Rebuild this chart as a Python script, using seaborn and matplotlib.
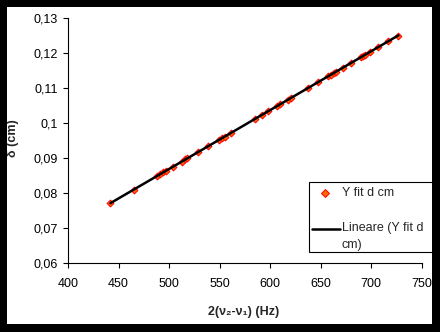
import numpy as np
import pandas as pd
import seaborn as sns
import matplotlib
matplotlib.use("Agg")
import matplotlib.pyplot as plt
from matplotlib.patches import Rectangle
from matplotlib.lines import Line2D
from matplotlib.ticker import FuncFormatter, MultipleLocator

# Measured beat frequency 2(nu2 - nu1) in Hz and the corresponding delta in cm
freq = [442, 465, 488, 491, 494, 497, 504, 513, 516, 518, 529, 539, 549, 552,
        555, 561, 585, 592, 598, 607, 610, 618, 621, 637, 647, 657, 660, 663,
        665, 672, 680, 690, 692, 694, 699, 707, 717, 727]
delta = [0.0771, 0.0810, 0.0848, 0.0853, 0.0859, 0.0864, 0.0875, 0.0890,
         0.0896, 0.0899, 0.0917, 0.0934, 0.0951, 0.0956, 0.0961, 0.0971,
         0.1012, 0.1023, 0.1033, 0.1049, 0.1054, 0.1067, 0.1072, 0.1099,
         0.1116, 0.1133, 0.1138, 0.1143, 0.1146, 0.1158, 0.1171, 0.1188,
         0.1192, 0.1195, 0.1203, 0.1217, 0.1234, 0.1250]

series_label = "Y fit d cm"
fit_label = "Lineare (Y fit d\ncm)"
x_title = "2(ν₂-ν₁) (Hz)"
y_title = "δ (cm)"

sns.set_style("white")
plt.rcParams["font.family"] = ["Liberation Sans", "DejaVu Sans"]
FS = 9

W, H = 440, 332
fig = plt.figure(figsize=(W / 100, H / 100), dpi=100, facecolor="white")


def fx(px):
    return px / W


def fy(py):
    return 1 - py / H


MARK_FACE = "#FF6600"
MARK_EDGE = "#FF0000"

ax_l, ax_r, ax_t, ax_b = 68, 421.7, 18, 263
ax = fig.add_axes([fx(ax_l), fy(ax_b), (ax_r - ax_l) / W, (ax_b - ax_t) / H])
ax.set_facecolor("white")

df = pd.DataFrame({"freq": freq, "delta": delta})
sns.scatterplot(data=df, x="freq", y="delta", marker="D", s=12,
                color=MARK_FACE, edgecolor=MARK_EDGE, linewidth=0.7,
                ax=ax, zorder=2, legend=False)

# least-squares linear trend over the data range
slope, icpt = np.polyfit(freq, delta, 1)
fit_x = [min(freq), max(freq)]
fit = pd.DataFrame({"freq": fit_x, "delta": [slope * v + icpt for v in fit_x]})
sns.lineplot(data=fit, x="freq", y="delta", color="black", linewidth=1.8,
             ax=ax, zorder=3, legend=False)

ax.set_xlim(400, 750)
ax.set_ylim(0.06, 0.13)
ax.xaxis.set_major_locator(MultipleLocator(50))
ax.yaxis.set_major_locator(MultipleLocator(0.01))
ax.yaxis.set_major_formatter(FuncFormatter(lambda v, p: f"{v:.2f}".rstrip("0").replace(".", ",")))
ax.xaxis.set_major_formatter(FuncFormatter(lambda v, p: f"{v:.0f}"))
for s in ("top", "right"):
    ax.spines[s].set_visible(False)
for s in ("left", "bottom"):
    ax.spines[s].set_color("black")
    ax.spines[s].set_linewidth(0.8)
ax.tick_params(axis="both", direction="out", length=3.5, width=0.8,
               colors="black", labelsize=FS, bottom=True, left=True)
ax.tick_params(axis="x", pad=7)
ax.tick_params(axis="y", pad=4)
ax.set_xlabel("")
ax.set_ylabel("")

fig.text(fx(244), fy(312), x_title, ha="center", va="center",
         fontsize=FS, fontweight="bold")
fig.text(fx(13), fy(138), y_title, ha="center", va="center",
         rotation=90, fontsize=FS, fontweight="bold")

# legend box
lx0, ly0, lx1, ly1 = 309, 182, 445, 252
fig.patches.append(Rectangle((fx(lx0), fy(ly1)), (lx1 - lx0) / W, (ly1 - ly0) / H,
                             transform=fig.transFigure, facecolor="white",
                             edgecolor="black", linewidth=0.8, zorder=5))
fig.lines.append(Line2D([fx(325)], [fy(193)], marker="D", markersize=4.2,
                        markerfacecolor=MARK_FACE, markeredgecolor=MARK_EDGE,
                        markeredgewidth=0.7, linestyle="none",
                        transform=fig.transFigure, zorder=6))
fig.text(fx(342), fy(193), series_label, ha="left", va="center",
         fontsize=FS, zorder=6)
fig.lines.append(Line2D([fx(312), fx(340)], [fy(229), fy(229)], color="black",
                        linewidth=1.8, transform=fig.transFigure, zorder=6))
fig.text(fx(342), fy(222), fit_label, ha="left", va="top", fontsize=FS,
         linespacing=1.55, zorder=6)

# black frame around the chart area
for x0, y0, x1, y1 in [(0, 0, 7, H), (432, 0, W, H), (0, 0, W, 7), (0, 324, W, H)]:
    fig.patches.append(Rectangle((fx(x0), fy(y1)), (x1 - x0) / W, (y1 - y0) / H,
                                 transform=fig.transFigure, facecolor="black",
                                 edgecolor="none", zorder=10))

fig.savefig("out.png", dpi=100, facecolor=fig.get_facecolor())
